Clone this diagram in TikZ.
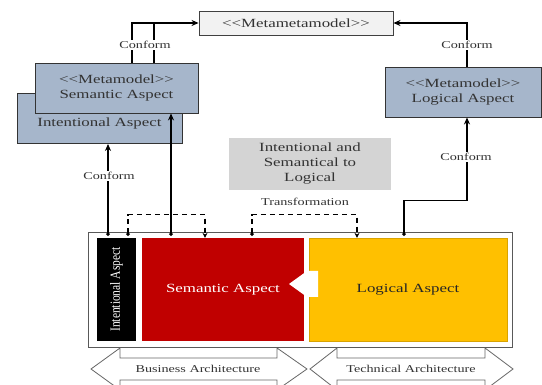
\documentclass[tikz,border=0pt]{standalone}
\usepackage{fontspec}
\setmainfont{Liberation Serif}[FakeStretch=1.35]
\newfontfamily\condfont{Liberation Serif}[FakeStretch=0.82]
\usetikzlibrary{arrows.meta}

\definecolor{metablue}{HTML}{A6B6CB}
\definecolor{mmmgrey}{HTML}{F2F2F2}
\definecolor{trgrey}{HTML}{D4D4D4}
\definecolor{semred}{HTML}{C00000}
\definecolor{logyellow}{HTML}{FFC000}
\definecolor{txtgrey}{HTML}{333333}

\newcommand{\stereo}[1]{<\kern0pt<#1>\kern0pt>}

\tikzset{
  meta/.style={draw=black!80, fill=metablue, line width=0.9pt, text=txtgrey, align=center,
    font=\fontsize{12.5}{14.5}\selectfont, inner sep=0pt},
  model/.style={minimum width=#1, minimum height=103pt, inner sep=0pt,
    font=\fontsize{12.5}{14.5}\selectfont},
  conform/.style={line width=1.4pt, {Circle[length=3.5pt]}-{Stealth[length=7pt,width=6pt]}, shorten <=2pt},
  trans/.style={line width=1.4pt, dash pattern=on 5pt off 4pt,
    {Circle[length=3.5pt]}-{Stealth[length=5pt,width=5pt]}, shorten <=2pt},
  lbl/.style={fill=white, text=txtgrey, font=\fontsize{10.5}{12}\selectfont, inner sep=1.5pt},
  archarrow/.style={draw=black!60, fill=white, line width=0.8pt},
}

\begin{document}
\begin{tikzpicture}[x=1pt, y=-1pt]
\useasboundingbox (0,0) rectangle (542,385);

% metamodel level
\node[draw=black!75, fill=mmmgrey, line width=0.9pt, minimum width=194pt, minimum height=24pt,
  inner sep=0pt, text=txtgrey, font=\fontsize{12.5}{14.5}\selectfont] (mmm) at (296,23) {\stereo{Metametamodel}};
\node[meta, minimum width=165pt, minimum height=50pt] (intmeta) at (99.5,118.5) {};
\node[text=txtgrey, font=\fontsize{12.5}{14.5}\selectfont, inner sep=0pt] (intmetalbl) at (99.5,123) {Intentional Aspect};
\node[meta, minimum width=163pt, minimum height=50pt] (semmeta) at (116.5,88) {\stereo{Metamodel}\\Semantic Aspect};
\node[meta, minimum width=156pt, minimum height=50pt] (logmeta) at (463,92) {\stereo{Metamodel}\\Logical Aspect};
\node[fill=trgrey, minimum width=162pt, minimum height=52pt, inner sep=0pt, align=center, text=txtgrey,
  font=\fontsize{12.5}{15}\selectfont] (trmeta) at (310,164) {Intentional and\\Semantical to\\Logical};

% model level
\node[draw=black!65, fill=white, line width=0.9pt, minimum width=424pt, minimum height=115pt] (frame) at (300,289.5) {};
\node[fill=black, minimum width=39pt, minimum height=103pt] (intent) at (116.5,289.5) {};
\node[rotate=90, text=white, font=\condfont\fontsize{14}{14}\selectfont] (intentlbl) at (intent.center) {Intentional Aspect};
\node[model=162pt, fill=semred, text=white] (sem) at (223,289.5) {Semantic Aspect};
\node[model=198pt, fill=logyellow, draw=logyellow!85!black, text=black!85] (log) at (408,289.5) {Logical Aspect};
\fill[white] (289,284) -- (307,271) -- (318,271) -- (318,297) -- (307,297) -- cycle;

% conform links
\coordinate (semtop) at ([xshift=37.5pt]semmeta.north);
\draw[line width=1.4pt, -{Stealth[length=7pt,width=6pt]}] ([xshift=15.5pt]semmeta.north) |- (mmm.west);
\draw[line width=1.4pt] (semtop) -- (semtop |- mmm.west);
\draw[line width=1.4pt, -{Stealth[length=7pt,width=6pt]}] ([xshift=4pt]logmeta.north) |- (mmm.east);
\draw[conform] ([xshift=-8.5pt]intent.north) -- ([xshift=8.5pt]intmeta.south);
\draw[conform] ([xshift=-52pt]sem.north) -- ([xshift=54.5pt]semmeta.south);
\draw[conform] ([xshift=-4pt]log.north) -- ++(0,-37) -| ([xshift=4pt]logmeta.south);
\node[lbl] (conf1) at (145,45) {Conform};
\node[lbl] (conf2) at (467,45) {Conform};
\node[lbl] (conf3) at (109,176) {Conform};
\node[lbl] (conf4) at (466,157) {Conform};

% transformations
\draw[trans] ([xshift=11.5pt]intent.north) -- ++(0,-23) -| ([xshift=-18pt]sem.north);
\draw[trans] ([xshift=29pt]sem.north) -- ++(0,-23) -| ([xshift=-51pt]log.north);
\node[lbl, fill=none] (translbl) at (305,202) {Transformation};

% architectures
\draw[archarrow] (91,369) -- (120,348) -- (120,358) -- (277,358) -- (277,348) -- (307,369)
  -- (277,390) -- (277,380) -- (120,380) -- (120,390) -- cycle;
\draw[archarrow] (310,369) -- (337,348) -- (337,358) -- (485,358) -- (485,348) -- (513,369)
  -- (485,390) -- (485,380) -- (337,380) -- (337,390) -- cycle;
\node[lbl, fill=none] (busarch) at (198,369) {Business Architecture};
\node[lbl, fill=none] (techarch) at (411,369) {Technical Architecture};
\end{tikzpicture}
\end{document}
